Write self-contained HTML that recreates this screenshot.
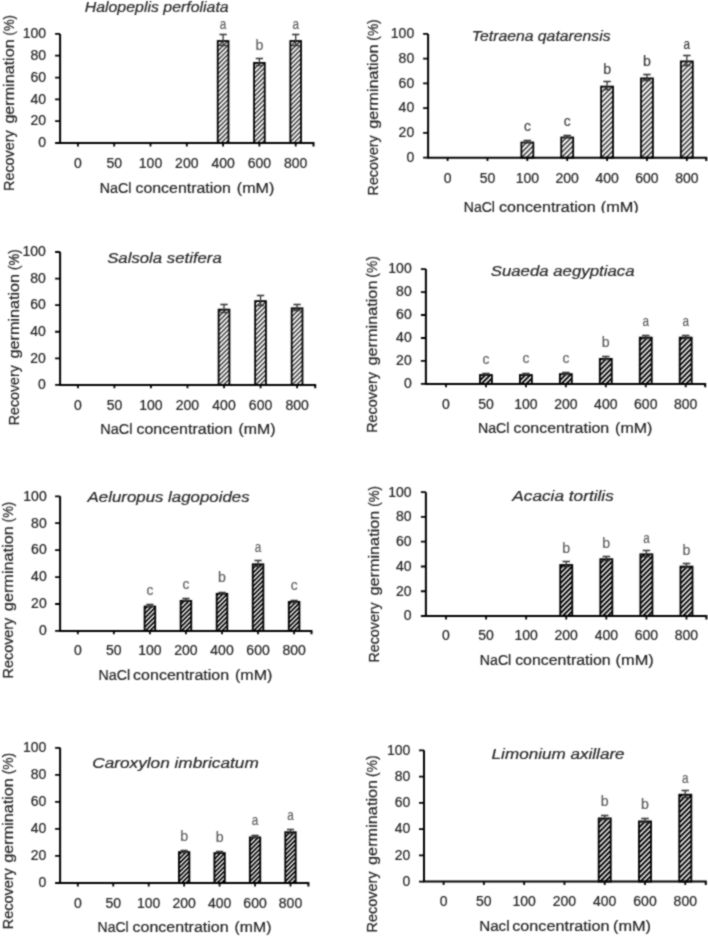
<!DOCTYPE html>
<html><head><meta charset="utf-8"><style>
html,body{margin:0;padding:0;background:#fff;}
svg{display:block;will-change:transform;}
text{font-family:"Liberation Sans", sans-serif;white-space:pre;stroke-width:0.2px;}
</style></head><body>
<svg width="708" height="937" viewBox="0 0 708 937" xml:space="preserve">
<defs>
<pattern id="h0" patternUnits="userSpaceOnUse" width="3.208497019633959" height="3.208497019633959" patternTransform="rotate(45)"><rect width="3.208497019633959" height="3.208497019633959" fill="#fff"/><rect width="1.6042485098169794" height="3.208497019633959" fill="#4a4a4a"/></pattern>
<pattern id="h1" patternUnits="userSpaceOnUse" width="3.524043420738456" height="3.524043420738456" patternTransform="rotate(45)"><rect width="3.524043420738456" height="3.524043420738456" fill="#fff"/><rect width="1.762021710369228" height="3.524043420738456" fill="#4a4a4a"/></pattern>
<pattern id="h2" patternUnits="userSpaceOnUse" width="3.2288263395930725" height="3.2288263395930725" patternTransform="rotate(45)"><rect width="3.2288263395930725" height="3.2288263395930725" fill="#fff"/><rect width="1.6144131697965363" height="3.2288263395930725" fill="#4a4a4a"/></pattern>
<pattern id="h3" patternUnits="userSpaceOnUse" width="3.5311144885503216" height="3.5311144885503216" patternTransform="rotate(45)"><rect width="3.5311144885503216" height="3.5311144885503216" fill="#fff"/><rect width="1.9774241135881803" height="3.5311144885503216" fill="#000"/></pattern>
<pattern id="h4" patternUnits="userSpaceOnUse" width="3.1863999327218795" height="3.1863999327218795" patternTransform="rotate(45)"><rect width="3.1863999327218795" height="3.1863999327218795" fill="#fff"/><rect width="1.7843839623242528" height="3.1863999327218795" fill="#000"/></pattern>
<pattern id="h5" patternUnits="userSpaceOnUse" width="3.5426049737446026" height="3.5426049737446026" patternTransform="rotate(45)"><rect width="3.5426049737446026" height="3.5426049737446026" fill="#fff"/><rect width="1.9838587852969776" height="3.5426049737446026" fill="#000"/></pattern>
<pattern id="h6" patternUnits="userSpaceOnUse" width="3.133366924132889" height="3.133366924132889" patternTransform="rotate(45)"><rect width="3.133366924132889" height="3.133366924132889" fill="#fff"/><rect width="1.754685477514418" height="3.133366924132889" fill="#000"/></pattern>
<pattern id="h7" patternUnits="userSpaceOnUse" width="3.5602826432742667" height="3.5602826432742667" patternTransform="rotate(45)"><rect width="3.5602826432742667" height="3.5602826432742667" fill="#fff"/><rect width="1.9937582802335896" height="3.5602826432742667" fill="#000"/></pattern>
<filter id="soft" x="0" y="0" width="708" height="937" filterUnits="userSpaceOnUse" color-interpolation-filters="sRGB"><feConvolveMatrix order="3" kernelMatrix="1 2 1 2 8 2 1 2 1" divisor="20" edgeMode="duplicate"/></filter>
</defs>
<g filter="url(#soft)">
<rect width="708" height="937" fill="#fff"/>
<rect x="217.74" y="41" width="10.72" height="102" fill="url(#h0)" stroke="#000" stroke-width="1.8"/>
<path d="M223.1 34.5V45.5M219.47 34.5H226.73M219.47 45.5H226.73" stroke="#333" stroke-width="1.3" fill="none"/>
<text x="223.1" y="28.5" text-anchor="middle" font-size="13.8" fill="#5a5a5a" style="stroke-width:0.15px" stroke="#5a5a5a" textLength="6.52" lengthAdjust="spacingAndGlyphs">a</text>
<rect x="254.04" y="62.9" width="10.72" height="80.1" fill="url(#h0)" stroke="#000" stroke-width="1.8"/>
<path d="M259.4 58.5V65.5M255.77 58.5H263.03M255.77 65.5H263.03" stroke="#333" stroke-width="1.3" fill="none"/>
<text x="259.4" y="49.7" text-anchor="middle" font-size="14.2" fill="#5a5a5a" style="stroke-width:0.15px" stroke="#5a5a5a">b</text>
<rect x="290.34" y="41" width="10.72" height="102" fill="url(#h0)" stroke="#000" stroke-width="1.8"/>
<path d="M295.7 34.5V45.5M292.07 34.5H299.33M292.07 45.5H299.33" stroke="#333" stroke-width="1.3" fill="none"/>
<text x="295.7" y="28.5" text-anchor="middle" font-size="13.8" fill="#5a5a5a" style="stroke-width:0.15px" stroke="#5a5a5a" textLength="6.52" lengthAdjust="spacingAndGlyphs">a</text>
<path d="M60.1 33.9V143H313.5v3.4" stroke="#000" stroke-width="2.0" fill="none"/>
<path d="M55.1 33.9H60.1M55.1 55.72H60.1M55.1 77.54H60.1M55.1 99.36H60.1M55.1 121.18H60.1M55.1 143H60.1M77.9 143v3.4M114.2 143v3.4M150.5 143v3.4M186.8 143v3.4M223.1 143v3.4M259.4 143v3.4M295.7 143v3.4" stroke="#000" stroke-width="1.8" fill="none"/>
<text x="46" y="147.3" text-anchor="end" font-size="14.0" fill="#222222" stroke="#222222">0</text>
<text x="46" y="125.48" text-anchor="end" font-size="14.0" fill="#222222" stroke="#222222">20</text>
<text x="46" y="103.66" text-anchor="end" font-size="14.0" fill="#222222" stroke="#222222">40</text>
<text x="46" y="81.84" text-anchor="end" font-size="14.0" fill="#222222" stroke="#222222">60</text>
<text x="46" y="60.02" text-anchor="end" font-size="14.0" fill="#222222" stroke="#222222">80</text>
<text x="46" y="38.2" text-anchor="end" font-size="14.0" fill="#222222" stroke="#222222">100</text>
<text x="77.9" y="168.3" text-anchor="middle" font-size="14.0" fill="#222222" stroke="#222222">0</text>
<text x="114.2" y="168.3" text-anchor="middle" font-size="14.0" fill="#222222" stroke="#222222">50</text>
<text x="150.5" y="168.3" text-anchor="middle" font-size="14.0" fill="#222222" stroke="#222222">100</text>
<text x="186.8" y="168.3" text-anchor="middle" font-size="14.0" fill="#222222" stroke="#222222">200</text>
<text x="223.1" y="168.3" text-anchor="middle" font-size="14.0" fill="#222222" stroke="#222222">400</text>
<text x="259.4" y="168.3" text-anchor="middle" font-size="14.0" fill="#222222" stroke="#222222">600</text>
<text x="295.7" y="168.3" text-anchor="middle" font-size="14.0" fill="#222222" stroke="#222222">800</text>
<text x="84.7" y="11.7" font-size="15.3" font-style="italic" fill="#262626" stroke="#262626" textLength="144" lengthAdjust="spacingAndGlyphs">Halopeplis perfoliata</text>
<text x="99.8" y="192.5" font-size="15.3" fill="#222222" stroke="#222222" textLength="31.72" lengthAdjust="spacingAndGlyphs">NaCl</text>
<text x="135.5" y="192.5" font-size="15.3" fill="#222222" stroke="#222222" textLength="95.38" lengthAdjust="spacingAndGlyphs">concentration</text>
<text x="236.86" y="192.5" font-size="15.3" fill="#222222" stroke="#222222" textLength="37.54" lengthAdjust="spacingAndGlyphs">(mM)</text>
<text transform="translate(13.7 191) rotate(-90)" font-size="15.3" fill="#222222" stroke="#222222" textLength="60.8" lengthAdjust="spacingAndGlyphs">Recovery</text>
<text transform="translate(13.7 123.6) rotate(-90)" font-size="15.3" fill="#222222" stroke="#222222" textLength="84.2" lengthAdjust="spacingAndGlyphs">germination</text>
<text transform="translate(13.7 35.5) rotate(-90)" font-size="15.3" fill="#222222" stroke="#222222" textLength="20.5" lengthAdjust="spacingAndGlyphs">(%)</text>
<rect x="521.36" y="142.5" width="11.96" height="15.2" fill="url(#h1)" stroke="#000" stroke-width="1.8"/>
<path d="M527.34 140.5V142.5M523.59 140.5H531.09M523.59 142.5H531.09" stroke="#333" stroke-width="1.3" fill="none"/>
<text x="527.34" y="130.7" text-anchor="middle" font-size="13.8" fill="#383838" style="stroke-width:0.15px" stroke="#383838">c</text>
<rect x="561.23" y="137.5" width="11.96" height="20.2" fill="url(#h1)" stroke="#000" stroke-width="1.8"/>
<path d="M567.21 135.5V137.5M563.46 135.5H570.96M563.46 137.5H570.96" stroke="#333" stroke-width="1.3" fill="none"/>
<text x="567.21" y="125.7" text-anchor="middle" font-size="13.8" fill="#383838" style="stroke-width:0.15px" stroke="#383838">c</text>
<rect x="601.1" y="86.6" width="11.96" height="71.1" fill="url(#h1)" stroke="#000" stroke-width="1.8"/>
<path d="M607.08 81.5V89.5M603.33 81.5H610.83M603.33 89.5H610.83" stroke="#333" stroke-width="1.3" fill="none"/>
<text x="607.08" y="73.5" text-anchor="middle" font-size="14.2" fill="#383838" style="stroke-width:0.15px" stroke="#383838">b</text>
<rect x="640.97" y="78.4" width="11.96" height="79.3" fill="url(#h1)" stroke="#000" stroke-width="1.8"/>
<path d="M646.95 74.5V80.5M643.2 74.5H650.7M643.2 80.5H650.7" stroke="#333" stroke-width="1.3" fill="none"/>
<text x="646.95" y="66.2" text-anchor="middle" font-size="14.2" fill="#383838" style="stroke-width:0.15px" stroke="#383838">b</text>
<rect x="680.84" y="61.4" width="11.96" height="96.3" fill="url(#h1)" stroke="#000" stroke-width="1.8"/>
<path d="M686.82 55.5V65.5M683.07 55.5H690.57M683.07 65.5H690.57" stroke="#333" stroke-width="1.3" fill="none"/>
<text x="686.82" y="48.9" text-anchor="middle" font-size="13.8" fill="#383838" style="stroke-width:0.15px" stroke="#383838" textLength="6.52" lengthAdjust="spacingAndGlyphs">a</text>
<path d="M428.1 33.9V157.7H706.3v3.4" stroke="#000" stroke-width="2.0" fill="none"/>
<path d="M423.1 33.9H428.1M423.1 58.66H428.1M423.1 83.42H428.1M423.1 108.18H428.1M423.1 132.94H428.1M423.1 157.7H428.1M447.6 157.7v3.4M487.47 157.7v3.4M527.34 157.7v3.4M567.21 157.7v3.4M607.08 157.7v3.4M646.95 157.7v3.4M686.82 157.7v3.4" stroke="#000" stroke-width="1.8" fill="none"/>
<text x="414.2" y="162" text-anchor="end" font-size="14.0" fill="#222222" stroke="#222222">0</text>
<text x="414.2" y="137.24" text-anchor="end" font-size="14.0" fill="#222222" stroke="#222222">20</text>
<text x="414.2" y="112.48" text-anchor="end" font-size="14.0" fill="#222222" stroke="#222222">40</text>
<text x="414.2" y="87.72" text-anchor="end" font-size="14.0" fill="#222222" stroke="#222222">60</text>
<text x="414.2" y="62.96" text-anchor="end" font-size="14.0" fill="#222222" stroke="#222222">80</text>
<text x="414.2" y="38.2" text-anchor="end" font-size="14.0" fill="#222222" stroke="#222222">100</text>
<text x="447.6" y="182.5" text-anchor="middle" font-size="14.0" fill="#222222" stroke="#222222">0</text>
<text x="487.47" y="182.5" text-anchor="middle" font-size="14.0" fill="#222222" stroke="#222222">50</text>
<text x="527.34" y="182.5" text-anchor="middle" font-size="14.0" fill="#222222" stroke="#222222">100</text>
<text x="567.21" y="182.5" text-anchor="middle" font-size="14.0" fill="#222222" stroke="#222222">200</text>
<text x="607.08" y="182.5" text-anchor="middle" font-size="14.0" fill="#222222" stroke="#222222">400</text>
<text x="646.95" y="182.5" text-anchor="middle" font-size="14.0" fill="#222222" stroke="#222222">600</text>
<text x="686.82" y="182.5" text-anchor="middle" font-size="14.0" fill="#222222" stroke="#222222">800</text>
<text x="471.8" y="40.5" font-size="15.3" font-style="italic" fill="#262626" stroke="#262626" textLength="138.8" lengthAdjust="spacingAndGlyphs">Tetraena qatarensis</text>
<text x="463.8" y="211.6" font-size="15.3" fill="#222222" stroke="#222222" textLength="31.14" lengthAdjust="spacingAndGlyphs">NaCl</text>
<text x="498.99" y="211.6" font-size="15.3" fill="#222222" stroke="#222222" textLength="96.7" lengthAdjust="spacingAndGlyphs">concentration</text>
<text x="600.75" y="211.6" font-size="15.3" fill="#222222" stroke="#222222" textLength="38.05" lengthAdjust="spacingAndGlyphs">(mM)</text>
<text transform="translate(377.7 195.4) rotate(-90)" font-size="15.3" fill="#222222" stroke="#222222" textLength="60.11" lengthAdjust="spacingAndGlyphs">Recovery</text>
<text transform="translate(377.7 128.76) rotate(-90)" font-size="15.3" fill="#222222" stroke="#222222" textLength="84.25" lengthAdjust="spacingAndGlyphs">germination</text>
<text transform="translate(377.7 40.67) rotate(-90)" font-size="15.3" fill="#222222" stroke="#222222" textLength="21.27" lengthAdjust="spacingAndGlyphs">(%)</text>
<rect x="218.62" y="309.6" width="10.8" height="75.3" fill="url(#h2)" stroke="#000" stroke-width="1.8"/>
<path d="M224.02 304.5V312.5M220.37 304.5H227.67M220.37 312.5H227.67" stroke="#333" stroke-width="1.3" fill="none"/>
<rect x="255.15" y="301.1" width="10.8" height="83.8" fill="url(#h2)" stroke="#000" stroke-width="1.8"/>
<path d="M260.55 295.5V305.5M256.9 295.5H264.2M256.9 305.5H264.2" stroke="#333" stroke-width="1.3" fill="none"/>
<rect x="291.68" y="308.3" width="10.8" height="76.6" fill="url(#h2)" stroke="#000" stroke-width="1.8"/>
<path d="M297.08 304.5V310.5M293.43 304.5H300.73M293.43 310.5H300.73" stroke="#333" stroke-width="1.3" fill="none"/>
<path d="M60.1 252V384.9H315.2v3.4" stroke="#000" stroke-width="2.0" fill="none"/>
<path d="M55.1 252H60.1M55.1 278.58H60.1M55.1 305.16H60.1M55.1 331.74H60.1M55.1 358.32H60.1M55.1 384.9H60.1M77.9 384.9v3.4M114.43 384.9v3.4M150.96 384.9v3.4M187.49 384.9v3.4M224.02 384.9v3.4M260.55 384.9v3.4M297.08 384.9v3.4" stroke="#000" stroke-width="1.8" fill="none"/>
<text x="45.9" y="389.2" text-anchor="end" font-size="14.0" fill="#222222" stroke="#222222">0</text>
<text x="45.9" y="362.62" text-anchor="end" font-size="14.0" fill="#222222" stroke="#222222">20</text>
<text x="45.9" y="336.04" text-anchor="end" font-size="14.0" fill="#222222" stroke="#222222">40</text>
<text x="45.9" y="309.46" text-anchor="end" font-size="14.0" fill="#222222" stroke="#222222">60</text>
<text x="45.9" y="282.88" text-anchor="end" font-size="14.0" fill="#222222" stroke="#222222">80</text>
<text x="45.9" y="256.3" text-anchor="end" font-size="14.0" fill="#222222" stroke="#222222">100</text>
<text x="77.9" y="409.6" text-anchor="middle" font-size="14.0" fill="#222222" stroke="#222222">0</text>
<text x="114.43" y="409.6" text-anchor="middle" font-size="14.0" fill="#222222" stroke="#222222">50</text>
<text x="150.96" y="409.6" text-anchor="middle" font-size="14.0" fill="#222222" stroke="#222222">100</text>
<text x="187.49" y="409.6" text-anchor="middle" font-size="14.0" fill="#222222" stroke="#222222">200</text>
<text x="224.02" y="409.6" text-anchor="middle" font-size="14.0" fill="#222222" stroke="#222222">400</text>
<text x="260.55" y="409.6" text-anchor="middle" font-size="14.0" fill="#222222" stroke="#222222">600</text>
<text x="297.08" y="409.6" text-anchor="middle" font-size="14.0" fill="#222222" stroke="#222222">800</text>
<text x="107.2" y="263.3" font-size="15.3" font-style="italic" fill="#262626" stroke="#262626" textLength="114.6" lengthAdjust="spacingAndGlyphs">Salsola setifera</text>
<text x="100.2" y="434.1" font-size="15.3" fill="#222222" stroke="#222222" textLength="32.21" lengthAdjust="spacingAndGlyphs">NaCl</text>
<text x="136.47" y="434.1" font-size="15.3" fill="#222222" stroke="#222222" textLength="95.92" lengthAdjust="spacingAndGlyphs">concentration</text>
<text x="238.47" y="434.1" font-size="15.3" fill="#222222" stroke="#222222" textLength="37.13" lengthAdjust="spacingAndGlyphs">(mM)</text>
<text transform="translate(18.6 425.2) rotate(-90)" font-size="15.3" fill="#222222" stroke="#222222" textLength="60.08" lengthAdjust="spacingAndGlyphs">Recovery</text>
<text transform="translate(18.6 358.49) rotate(-90)" font-size="15.3" fill="#222222" stroke="#222222" textLength="84.58" lengthAdjust="spacingAndGlyphs">germination</text>
<text transform="translate(18.6 269.99) rotate(-90)" font-size="15.3" fill="#222222" stroke="#222222" textLength="20.59" lengthAdjust="spacingAndGlyphs">(%)</text>
<rect x="479.96" y="375" width="11.98" height="8.9" fill="url(#h3)" stroke="#000" stroke-width="1.8"/>
<path d="M485.95 373.5V374.5M482.2 373.5H489.7M482.2 374.5H489.7" stroke="#333" stroke-width="1.3" fill="none"/>
<text x="485.95" y="363.6" text-anchor="middle" font-size="13.8" fill="#5a5a5a" style="stroke-width:0.15px" stroke="#5a5a5a">c</text>
<rect x="519.91" y="375" width="11.98" height="8.9" fill="url(#h3)" stroke="#000" stroke-width="1.8"/>
<path d="M525.9 373.5V374.5M522.15 373.5H529.65M522.15 374.5H529.65" stroke="#333" stroke-width="1.3" fill="none"/>
<text x="525.9" y="362.7" text-anchor="middle" font-size="13.8" fill="#5a5a5a" style="stroke-width:0.15px" stroke="#5a5a5a">c</text>
<rect x="559.86" y="374.1" width="11.98" height="9.8" fill="url(#h3)" stroke="#000" stroke-width="1.8"/>
<path d="M565.85 372.5V374.5M562.1 372.5H569.6M562.1 374.5H569.6" stroke="#333" stroke-width="1.3" fill="none"/>
<text x="565.85" y="362.7" text-anchor="middle" font-size="13.8" fill="#5a5a5a" style="stroke-width:0.15px" stroke="#5a5a5a">c</text>
<rect x="599.81" y="358.9" width="11.98" height="25" fill="url(#h3)" stroke="#000" stroke-width="1.8"/>
<path d="M605.8 356.5V359.5M602.05 356.5H609.55M602.05 359.5H609.55" stroke="#333" stroke-width="1.3" fill="none"/>
<text x="605.8" y="347.2" text-anchor="middle" font-size="14.2" fill="#5a5a5a" style="stroke-width:0.15px" stroke="#5a5a5a">b</text>
<rect x="639.76" y="337.6" width="11.98" height="46.3" fill="url(#h3)" stroke="#000" stroke-width="1.8"/>
<path d="M645.75 335.5V338.5M642 335.5H649.5M642 338.5H649.5" stroke="#333" stroke-width="1.3" fill="none"/>
<text x="645.75" y="326" text-anchor="middle" font-size="13.8" fill="#5a5a5a" style="stroke-width:0.15px" stroke="#5a5a5a" textLength="6.52" lengthAdjust="spacingAndGlyphs">a</text>
<rect x="679.71" y="337.6" width="11.98" height="46.3" fill="url(#h3)" stroke="#000" stroke-width="1.8"/>
<path d="M685.7 335.5V338.5M681.95 335.5H689.45M681.95 338.5H689.45" stroke="#333" stroke-width="1.3" fill="none"/>
<text x="685.7" y="326" text-anchor="middle" font-size="13.8" fill="#5a5a5a" style="stroke-width:0.15px" stroke="#5a5a5a" textLength="6.52" lengthAdjust="spacingAndGlyphs">a</text>
<path d="M425.9 269.1V383.9H705.2v3.4" stroke="#000" stroke-width="2.0" fill="none"/>
<path d="M420.9 269.1H425.9M420.9 292.06H425.9M420.9 315.02H425.9M420.9 337.98H425.9M420.9 360.94H425.9M420.9 383.9H425.9M446 383.9v3.4M485.95 383.9v3.4M525.9 383.9v3.4M565.85 383.9v3.4M605.8 383.9v3.4M645.75 383.9v3.4M685.7 383.9v3.4" stroke="#000" stroke-width="1.8" fill="none"/>
<text x="411.7" y="388.2" text-anchor="end" font-size="14.0" fill="#222222" stroke="#222222">0</text>
<text x="411.7" y="365.24" text-anchor="end" font-size="14.0" fill="#222222" stroke="#222222">20</text>
<text x="411.7" y="342.28" text-anchor="end" font-size="14.0" fill="#222222" stroke="#222222">40</text>
<text x="411.7" y="319.32" text-anchor="end" font-size="14.0" fill="#222222" stroke="#222222">60</text>
<text x="411.7" y="296.36" text-anchor="end" font-size="14.0" fill="#222222" stroke="#222222">80</text>
<text x="411.7" y="273.4" text-anchor="end" font-size="14.0" fill="#222222" stroke="#222222">100</text>
<text x="446" y="408.5" text-anchor="middle" font-size="14.0" fill="#222222" stroke="#222222">0</text>
<text x="485.95" y="408.5" text-anchor="middle" font-size="14.0" fill="#222222" stroke="#222222">50</text>
<text x="525.9" y="408.5" text-anchor="middle" font-size="14.0" fill="#222222" stroke="#222222">100</text>
<text x="565.85" y="408.5" text-anchor="middle" font-size="14.0" fill="#222222" stroke="#222222">200</text>
<text x="605.8" y="408.5" text-anchor="middle" font-size="14.0" fill="#222222" stroke="#222222">400</text>
<text x="645.75" y="408.5" text-anchor="middle" font-size="14.0" fill="#222222" stroke="#222222">600</text>
<text x="685.7" y="408.5" text-anchor="middle" font-size="14.0" fill="#222222" stroke="#222222">800</text>
<text x="490.7" y="275.9" font-size="15.3" font-style="italic" fill="#262626" stroke="#262626" textLength="143.8" lengthAdjust="spacingAndGlyphs">Suaeda aegyptiaca</text>
<text x="478" y="433.2" font-size="15.3" fill="#222222" stroke="#222222" textLength="31.51" lengthAdjust="spacingAndGlyphs">NaCl</text>
<text x="513.46" y="433.2" font-size="15.3" fill="#222222" stroke="#222222" textLength="95.72" lengthAdjust="spacingAndGlyphs">concentration</text>
<text x="615.11" y="433.2" font-size="15.3" fill="#222222" stroke="#222222" textLength="37.29" lengthAdjust="spacingAndGlyphs">(mM)</text>
<text transform="translate(376.8 432.8) rotate(-90)" font-size="15.3" fill="#222222" stroke="#222222" textLength="60.66" lengthAdjust="spacingAndGlyphs">Recovery</text>
<text transform="translate(376.8 365.55) rotate(-90)" font-size="15.3" fill="#222222" stroke="#222222" textLength="85.01" lengthAdjust="spacingAndGlyphs">germination</text>
<text transform="translate(376.8 277.65) rotate(-90)" font-size="15.3" fill="#222222" stroke="#222222" textLength="21.45" lengthAdjust="spacingAndGlyphs">(%)</text>
<rect x="144.58" y="606.5" width="10.64" height="24.4" fill="url(#h4)" stroke="#000" stroke-width="1.8"/>
<path d="M149.9 604.5V606.5M146.29 604.5H153.51M146.29 606.5H153.51" stroke="#333" stroke-width="1.3" fill="none"/>
<text x="149.9" y="594.9" text-anchor="middle" font-size="13.8" fill="#5a5a5a" style="stroke-width:0.15px" stroke="#5a5a5a">c</text>
<rect x="180.63" y="600.9" width="10.64" height="30" fill="url(#h4)" stroke="#000" stroke-width="1.8"/>
<path d="M185.95 598.5V600.5M182.34 598.5H189.56M182.34 600.5H189.56" stroke="#333" stroke-width="1.3" fill="none"/>
<text x="185.95" y="589.3" text-anchor="middle" font-size="13.8" fill="#5a5a5a" style="stroke-width:0.15px" stroke="#5a5a5a">c</text>
<rect x="216.68" y="593.8" width="10.64" height="37.1" fill="url(#h4)" stroke="#000" stroke-width="1.8"/>
<path d="M222 592.5V593.5M218.39 592.5H225.61M218.39 593.5H225.61" stroke="#333" stroke-width="1.3" fill="none"/>
<text x="222" y="581.7" text-anchor="middle" font-size="14.2" fill="#5a5a5a" style="stroke-width:0.15px" stroke="#5a5a5a">b</text>
<rect x="252.73" y="564.3" width="10.64" height="66.6" fill="url(#h4)" stroke="#000" stroke-width="1.8"/>
<path d="M258.05 560.5V566.5M254.44 560.5H261.66M254.44 566.5H261.66" stroke="#333" stroke-width="1.3" fill="none"/>
<text x="258.05" y="551.7" text-anchor="middle" font-size="13.8" fill="#5a5a5a" style="stroke-width:0.15px" stroke="#5a5a5a" textLength="6.52" lengthAdjust="spacingAndGlyphs">a</text>
<rect x="288.78" y="601.9" width="10.64" height="29" fill="url(#h4)" stroke="#000" stroke-width="1.8"/>
<path d="M294.1 600.5V602.5M290.49 600.5H297.71M290.49 602.5H297.71" stroke="#333" stroke-width="1.3" fill="none"/>
<text x="294.1" y="590" text-anchor="middle" font-size="13.8" fill="#5a5a5a" style="stroke-width:0.15px" stroke="#5a5a5a">c</text>
<path d="M60.1 496.3V630.9H311.5v3.4" stroke="#000" stroke-width="2.0" fill="none"/>
<path d="M55.1 496.3H60.1M55.1 523.22H60.1M55.1 550.14H60.1M55.1 577.06H60.1M55.1 603.98H60.1M55.1 630.9H60.1M77.8 630.9v3.4M113.85 630.9v3.4M149.9 630.9v3.4M185.95 630.9v3.4M222 630.9v3.4M258.05 630.9v3.4M294.1 630.9v3.4" stroke="#000" stroke-width="1.8" fill="none"/>
<text x="46.7" y="635.2" text-anchor="end" font-size="14.0" fill="#222222" stroke="#222222">0</text>
<text x="46.7" y="608.28" text-anchor="end" font-size="14.0" fill="#222222" stroke="#222222">20</text>
<text x="46.7" y="581.36" text-anchor="end" font-size="14.0" fill="#222222" stroke="#222222">40</text>
<text x="46.7" y="554.44" text-anchor="end" font-size="14.0" fill="#222222" stroke="#222222">60</text>
<text x="46.7" y="527.52" text-anchor="end" font-size="14.0" fill="#222222" stroke="#222222">80</text>
<text x="46.7" y="500.6" text-anchor="end" font-size="14.0" fill="#222222" stroke="#222222">100</text>
<text x="77.8" y="655.4" text-anchor="middle" font-size="14.0" fill="#222222" stroke="#222222">0</text>
<text x="113.85" y="655.4" text-anchor="middle" font-size="14.0" fill="#222222" stroke="#222222">50</text>
<text x="149.9" y="655.4" text-anchor="middle" font-size="14.0" fill="#222222" stroke="#222222">100</text>
<text x="185.95" y="655.4" text-anchor="middle" font-size="14.0" fill="#222222" stroke="#222222">200</text>
<text x="222" y="655.4" text-anchor="middle" font-size="14.0" fill="#222222" stroke="#222222">400</text>
<text x="258.05" y="655.4" text-anchor="middle" font-size="14.0" fill="#222222" stroke="#222222">600</text>
<text x="294.1" y="655.4" text-anchor="middle" font-size="14.0" fill="#222222" stroke="#222222">800</text>
<text x="87.6" y="502.3" font-size="15.3" font-style="italic" fill="#262626" stroke="#262626" textLength="162" lengthAdjust="spacingAndGlyphs">Aeluropus lagopoides</text>
<text x="98.6" y="679.8" font-size="15.3" fill="#222222" stroke="#222222" textLength="31.58" lengthAdjust="spacingAndGlyphs">NaCl</text>
<text x="133.14" y="679.8" font-size="15.3" fill="#222222" stroke="#222222" textLength="95.94" lengthAdjust="spacingAndGlyphs">concentration</text>
<text x="235.02" y="679.8" font-size="15.3" fill="#222222" stroke="#222222" textLength="37.38" lengthAdjust="spacingAndGlyphs">(mM)</text>
<text transform="translate(12.5 678.4) rotate(-90)" font-size="15.3" fill="#222222" stroke="#222222" textLength="60.66" lengthAdjust="spacingAndGlyphs">Recovery</text>
<text transform="translate(12.5 611.15) rotate(-90)" font-size="15.3" fill="#222222" stroke="#222222" textLength="85.01" lengthAdjust="spacingAndGlyphs">germination</text>
<text transform="translate(12.5 522.25) rotate(-90)" font-size="15.3" fill="#222222" stroke="#222222" textLength="20.45" lengthAdjust="spacingAndGlyphs">(%)</text>
<rect x="560.23" y="565" width="12.03" height="51" fill="url(#h5)" stroke="#000" stroke-width="1.8"/>
<path d="M566.24 561.5V566.5M562.49 561.5H569.99M562.49 566.5H569.99" stroke="#333" stroke-width="1.3" fill="none"/>
<text x="566.24" y="552.5" text-anchor="middle" font-size="14.2" fill="#5a5a5a" style="stroke-width:0.15px" stroke="#5a5a5a">b</text>
<rect x="600.31" y="559.2" width="12.03" height="56.8" fill="url(#h5)" stroke="#000" stroke-width="1.8"/>
<path d="M606.32 556.5V560.5M602.57 556.5H610.07M602.57 560.5H610.07" stroke="#333" stroke-width="1.3" fill="none"/>
<text x="606.32" y="547.6" text-anchor="middle" font-size="14.2" fill="#5a5a5a" style="stroke-width:0.15px" stroke="#5a5a5a">b</text>
<rect x="640.39" y="554.3" width="12.03" height="61.7" fill="url(#h5)" stroke="#000" stroke-width="1.8"/>
<path d="M646.4 550.5V556.5M642.65 550.5H650.15M642.65 556.5H650.15" stroke="#333" stroke-width="1.3" fill="none"/>
<text x="646.4" y="542.6" text-anchor="middle" font-size="13.8" fill="#5a5a5a" style="stroke-width:0.15px" stroke="#5a5a5a" textLength="6.52" lengthAdjust="spacingAndGlyphs">a</text>
<rect x="680.47" y="566.6" width="12.03" height="49.4" fill="url(#h5)" stroke="#000" stroke-width="1.8"/>
<path d="M686.48 563.5V567.5M682.73 563.5H690.23M682.73 567.5H690.23" stroke="#333" stroke-width="1.3" fill="none"/>
<text x="686.48" y="554.7" text-anchor="middle" font-size="14.2" fill="#5a5a5a" style="stroke-width:0.15px" stroke="#5a5a5a">b</text>
<path d="M425.9 492.2V616H706.4v3.4" stroke="#000" stroke-width="2.0" fill="none"/>
<path d="M420.9 492.2H425.9M420.9 516.96H425.9M420.9 541.72H425.9M420.9 566.48H425.9M420.9 591.24H425.9M420.9 616H425.9M446 616v3.4M486.08 616v3.4M526.16 616v3.4M566.24 616v3.4M606.32 616v3.4M646.4 616v3.4M686.48 616v3.4" stroke="#000" stroke-width="1.8" fill="none"/>
<text x="411.5" y="620.3" text-anchor="end" font-size="14.0" fill="#222222" stroke="#222222">0</text>
<text x="411.5" y="595.54" text-anchor="end" font-size="14.0" fill="#222222" stroke="#222222">20</text>
<text x="411.5" y="570.78" text-anchor="end" font-size="14.0" fill="#222222" stroke="#222222">40</text>
<text x="411.5" y="546.02" text-anchor="end" font-size="14.0" fill="#222222" stroke="#222222">60</text>
<text x="411.5" y="521.26" text-anchor="end" font-size="14.0" fill="#222222" stroke="#222222">80</text>
<text x="411.5" y="496.5" text-anchor="end" font-size="14.0" fill="#222222" stroke="#222222">100</text>
<text x="446" y="640.1" text-anchor="middle" font-size="14.0" fill="#222222" stroke="#222222">0</text>
<text x="486.08" y="640.1" text-anchor="middle" font-size="14.0" fill="#222222" stroke="#222222">50</text>
<text x="526.16" y="640.1" text-anchor="middle" font-size="14.0" fill="#222222" stroke="#222222">100</text>
<text x="566.24" y="640.1" text-anchor="middle" font-size="14.0" fill="#222222" stroke="#222222">200</text>
<text x="606.32" y="640.1" text-anchor="middle" font-size="14.0" fill="#222222" stroke="#222222">400</text>
<text x="646.4" y="640.1" text-anchor="middle" font-size="14.0" fill="#222222" stroke="#222222">600</text>
<text x="686.48" y="640.1" text-anchor="middle" font-size="14.0" fill="#222222" stroke="#222222">800</text>
<text x="512.3" y="501.3" font-size="15.3" font-style="italic" fill="#262626" stroke="#262626" textLength="101.5" lengthAdjust="spacingAndGlyphs">Acacia tortilis</text>
<text x="479.8" y="665.2" font-size="15.3" fill="#222222" stroke="#222222" textLength="31.44" lengthAdjust="spacingAndGlyphs">NaCl</text>
<text x="515.18" y="665.2" font-size="15.3" fill="#222222" stroke="#222222" textLength="95.5" lengthAdjust="spacingAndGlyphs">concentration</text>
<text x="615.59" y="665.2" font-size="15.3" fill="#222222" stroke="#222222" textLength="38.21" lengthAdjust="spacingAndGlyphs">(mM)</text>
<text transform="translate(378.9 662.6) rotate(-90)" font-size="15.3" fill="#222222" stroke="#222222" textLength="60.35" lengthAdjust="spacingAndGlyphs">Recovery</text>
<text transform="translate(378.9 595.59) rotate(-90)" font-size="15.3" fill="#222222" stroke="#222222" textLength="84.96" lengthAdjust="spacingAndGlyphs">germination</text>
<text transform="translate(378.9 506.68) rotate(-90)" font-size="15.3" fill="#222222" stroke="#222222" textLength="20.68" lengthAdjust="spacingAndGlyphs">(%)</text>
<rect x="178.93" y="852.1" width="10.43" height="30.9" fill="url(#h6)" stroke="#000" stroke-width="1.8"/>
<path d="M184.15 850.5V852.5M180.6 850.5H187.7M180.6 852.5H187.7" stroke="#333" stroke-width="1.3" fill="none"/>
<text x="184.15" y="840.7" text-anchor="middle" font-size="14.2" fill="#5a5a5a" style="stroke-width:0.15px" stroke="#5a5a5a">b</text>
<rect x="214.38" y="853.1" width="10.43" height="29.9" fill="url(#h6)" stroke="#000" stroke-width="1.8"/>
<path d="M219.6 851.5V852.5M216.05 851.5H223.15M216.05 852.5H223.15" stroke="#333" stroke-width="1.3" fill="none"/>
<text x="219.6" y="841.7" text-anchor="middle" font-size="14.2" fill="#5a5a5a" style="stroke-width:0.15px" stroke="#5a5a5a">b</text>
<rect x="249.83" y="837.4" width="10.43" height="45.6" fill="url(#h6)" stroke="#000" stroke-width="1.8"/>
<path d="M255.05 835.5V837.5M251.5 835.5H258.6M251.5 837.5H258.6" stroke="#333" stroke-width="1.3" fill="none"/>
<text x="255.05" y="825.3" text-anchor="middle" font-size="13.8" fill="#5a5a5a" style="stroke-width:0.15px" stroke="#5a5a5a" textLength="6.52" lengthAdjust="spacingAndGlyphs">a</text>
<rect x="285.28" y="832.2" width="10.43" height="50.8" fill="url(#h6)" stroke="#000" stroke-width="1.8"/>
<path d="M290.5 829.5V833.5M286.95 829.5H294.05M286.95 833.5H294.05" stroke="#333" stroke-width="1.3" fill="none"/>
<text x="290.5" y="820.2" text-anchor="middle" font-size="13.8" fill="#5a5a5a" style="stroke-width:0.15px" stroke="#5a5a5a" textLength="6.52" lengthAdjust="spacingAndGlyphs">a</text>
<path d="M60.1 747.8V883H308.4v3.4" stroke="#000" stroke-width="2.0" fill="none"/>
<path d="M55.1 747.8H60.1M55.1 774.84H60.1M55.1 801.88H60.1M55.1 828.92H60.1M55.1 855.96H60.1M55.1 883H60.1M77.8 883v3.4M113.25 883v3.4M148.7 883v3.4M184.15 883v3.4M219.6 883v3.4M255.05 883v3.4M290.5 883v3.4" stroke="#000" stroke-width="1.8" fill="none"/>
<text x="46.4" y="887.3" text-anchor="end" font-size="14.0" fill="#222222" stroke="#222222">0</text>
<text x="46.4" y="860.26" text-anchor="end" font-size="14.0" fill="#222222" stroke="#222222">20</text>
<text x="46.4" y="833.22" text-anchor="end" font-size="14.0" fill="#222222" stroke="#222222">40</text>
<text x="46.4" y="806.18" text-anchor="end" font-size="14.0" fill="#222222" stroke="#222222">60</text>
<text x="46.4" y="779.14" text-anchor="end" font-size="14.0" fill="#222222" stroke="#222222">80</text>
<text x="46.4" y="752.1" text-anchor="end" font-size="14.0" fill="#222222" stroke="#222222">100</text>
<text x="77.8" y="907.7" text-anchor="middle" font-size="14.0" fill="#222222" stroke="#222222">0</text>
<text x="113.25" y="907.7" text-anchor="middle" font-size="14.0" fill="#222222" stroke="#222222">50</text>
<text x="148.7" y="907.7" text-anchor="middle" font-size="14.0" fill="#222222" stroke="#222222">100</text>
<text x="184.15" y="907.7" text-anchor="middle" font-size="14.0" fill="#222222" stroke="#222222">200</text>
<text x="219.6" y="907.7" text-anchor="middle" font-size="14.0" fill="#222222" stroke="#222222">400</text>
<text x="255.05" y="907.7" text-anchor="middle" font-size="14.0" fill="#222222" stroke="#222222">600</text>
<text x="290.5" y="907.7" text-anchor="middle" font-size="14.0" fill="#222222" stroke="#222222">800</text>
<text x="92.2" y="768.3" font-size="15.3" font-style="italic" fill="#262626" stroke="#262626" textLength="166.6" lengthAdjust="spacingAndGlyphs">Caroxylon imbricatum</text>
<text x="97.6" y="932.3" font-size="15.3" fill="#222222" stroke="#222222" textLength="30.93" lengthAdjust="spacingAndGlyphs">NaCl</text>
<text x="132.55" y="932.3" font-size="15.3" fill="#222222" stroke="#222222" textLength="96.04" lengthAdjust="spacingAndGlyphs">concentration</text>
<text x="234.6" y="932.3" font-size="15.3" fill="#222222" stroke="#222222" textLength="36.8" lengthAdjust="spacingAndGlyphs">(mM)</text>
<text transform="translate(12.5 929.2) rotate(-90)" font-size="15.3" fill="#222222" stroke="#222222" textLength="60.94" lengthAdjust="spacingAndGlyphs">Recovery</text>
<text transform="translate(12.5 862.65) rotate(-90)" font-size="15.3" fill="#222222" stroke="#222222" textLength="84.39" lengthAdjust="spacingAndGlyphs">germination</text>
<text transform="translate(12.5 774.35) rotate(-90)" font-size="15.3" fill="#222222" stroke="#222222" textLength="21.55" lengthAdjust="spacingAndGlyphs">(%)</text>
<rect x="598.67" y="818.4" width="12.1" height="63.2" fill="url(#h7)" stroke="#000" stroke-width="1.8"/>
<path d="M604.72 815.5V819.5M600.97 815.5H608.47M600.97 819.5H608.47" stroke="#333" stroke-width="1.3" fill="none"/>
<text x="604.72" y="806.4" text-anchor="middle" font-size="14.2" fill="#5a5a5a" style="stroke-width:0.15px" stroke="#5a5a5a">b</text>
<rect x="638.95" y="821.4" width="12.1" height="60.2" fill="url(#h7)" stroke="#000" stroke-width="1.8"/>
<path d="M645 818.5V822.5M641.25 818.5H648.75M641.25 822.5H648.75" stroke="#333" stroke-width="1.3" fill="none"/>
<text x="645" y="808.9" text-anchor="middle" font-size="14.2" fill="#5a5a5a" style="stroke-width:0.15px" stroke="#5a5a5a">b</text>
<rect x="679.23" y="794.7" width="12.1" height="86.9" fill="url(#h7)" stroke="#000" stroke-width="1.8"/>
<path d="M685.28 790.5V797.5M681.53 790.5H689.03M681.53 797.5H689.03" stroke="#333" stroke-width="1.3" fill="none"/>
<text x="685.28" y="782.7" text-anchor="middle" font-size="13.8" fill="#5a5a5a" style="stroke-width:0.15px" stroke="#5a5a5a" textLength="6.52" lengthAdjust="spacingAndGlyphs">a</text>
<path d="M424 750.3V881.6H705.8v3.4" stroke="#000" stroke-width="2.0" fill="none"/>
<path d="M419 750.3H424M419 776.56H424M419 802.82H424M419 829.08H424M419 855.34H424M419 881.6H424M443.6 881.6v3.4M483.88 881.6v3.4M524.16 881.6v3.4M564.44 881.6v3.4M604.72 881.6v3.4M645 881.6v3.4M685.28 881.6v3.4" stroke="#000" stroke-width="1.8" fill="none"/>
<text x="410.4" y="885.9" text-anchor="end" font-size="14.0" fill="#222222" stroke="#222222">0</text>
<text x="410.4" y="859.64" text-anchor="end" font-size="14.0" fill="#222222" stroke="#222222">20</text>
<text x="410.4" y="833.38" text-anchor="end" font-size="14.0" fill="#222222" stroke="#222222">40</text>
<text x="410.4" y="807.12" text-anchor="end" font-size="14.0" fill="#222222" stroke="#222222">60</text>
<text x="410.4" y="780.86" text-anchor="end" font-size="14.0" fill="#222222" stroke="#222222">80</text>
<text x="410.4" y="754.6" text-anchor="end" font-size="14.0" fill="#222222" stroke="#222222">100</text>
<text x="443.6" y="906.4" text-anchor="middle" font-size="14.0" fill="#222222" stroke="#222222">0</text>
<text x="483.88" y="906.4" text-anchor="middle" font-size="14.0" fill="#222222" stroke="#222222">50</text>
<text x="524.16" y="906.4" text-anchor="middle" font-size="14.0" fill="#222222" stroke="#222222">100</text>
<text x="564.44" y="906.4" text-anchor="middle" font-size="14.0" fill="#222222" stroke="#222222">200</text>
<text x="604.72" y="906.4" text-anchor="middle" font-size="14.0" fill="#222222" stroke="#222222">400</text>
<text x="645" y="906.4" text-anchor="middle" font-size="14.0" fill="#222222" stroke="#222222">600</text>
<text x="685.28" y="906.4" text-anchor="middle" font-size="14.0" fill="#222222" stroke="#222222">800</text>
<text x="491.6" y="758.8" font-size="15.3" font-style="italic" fill="#262626" stroke="#262626" textLength="133" lengthAdjust="spacingAndGlyphs">Limonium axillare</text>
<text x="479.2" y="930.6" font-size="15.3" fill="#222222" stroke="#222222" textLength="30.4" lengthAdjust="spacingAndGlyphs">Nacl</text>
<text x="512.2" y="930.6" font-size="15.3" fill="#222222" stroke="#222222" textLength="97.2" lengthAdjust="spacingAndGlyphs">concentration</text>
<text x="613" y="930.6" font-size="15.3" fill="#222222" stroke="#222222" textLength="38" lengthAdjust="spacingAndGlyphs">(mM)</text>
<text transform="translate(376.7 932.4) rotate(-90)" font-size="15.3" fill="#222222" stroke="#222222" textLength="60.8" lengthAdjust="spacingAndGlyphs">Recovery</text>
<text transform="translate(376.7 865) rotate(-90)" font-size="15.3" fill="#222222" stroke="#222222" textLength="85.2" lengthAdjust="spacingAndGlyphs">germination</text>
<text transform="translate(376.7 776.9) rotate(-90)" font-size="15.3" fill="#222222" stroke="#222222" textLength="21.5" lengthAdjust="spacingAndGlyphs">(%)</text>
<rect x="354" y="212.8" width="354" height="20" fill="#fff"/>
</g>
</svg>
</body></html>
